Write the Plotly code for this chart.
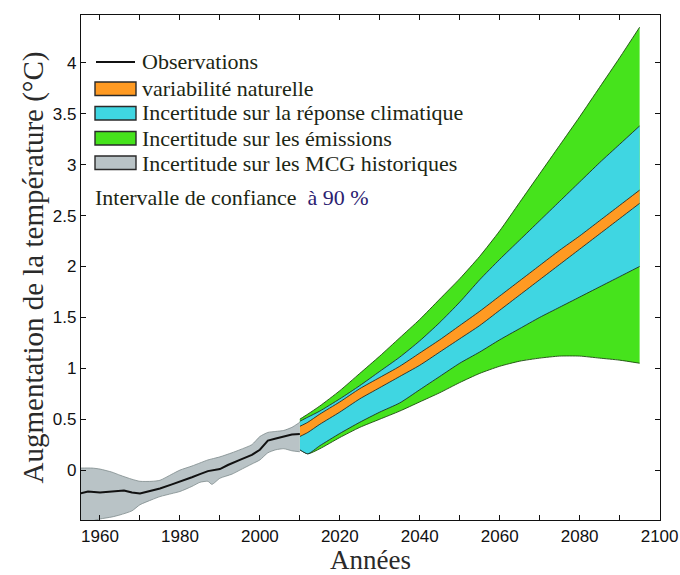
import plotly.graph_objects as go

# ---------------- data ----------------
obs_years = [1955, 1957, 1960, 1963, 1966, 1968, 1970, 1972, 1975, 1978, 1980, 1983,
             1985, 1987, 1990, 1992, 1995, 1998, 2000, 2002, 2004, 2006, 2008, 2010]
obs_vals = [-0.23, -0.21, -0.22, -0.21, -0.20, -0.22, -0.23, -0.21, -0.18, -0.14, -0.115, -0.07,
            -0.04, -0.01, 0.01, 0.05, 0.10, 0.15, 0.20, 0.29, 0.31, 0.33, 0.35, 0.355]

gcm_years = [1955, 1958, 1960, 1963, 1965, 1968, 1970, 1973, 1975, 1978, 1980, 1983,
             1985, 1987, 1988, 1990, 1993, 1995, 1998, 2000, 2002, 2004, 2006, 2008, 2010]
gcm_lo = [-0.52, -0.50, -0.48, -0.46, -0.44, -0.40, -0.34, -0.29, -0.26, -0.23, -0.21, -0.16,
          -0.12, -0.11, -0.14, -0.08, -0.04, 0.00, 0.06, 0.10, 0.17, 0.20, 0.21, 0.19, 0.18]
gcm_hi = [0.02, 0.02, 0.01, -0.02, -0.05, -0.09, -0.11, -0.11, -0.10, -0.04, 0.00, 0.04,
          0.07, 0.10, 0.11, 0.13, 0.17, 0.20, 0.25, 0.33, 0.37, 0.38, 0.39, 0.42, 0.47]

proj_years = [2010, 2012, 2015, 2020, 2025, 2030, 2035, 2040, 2045, 2050,
              2055, 2060, 2065, 2070, 2075, 2080, 2085, 2090, 2095]
emis_lo = [0.20, 0.16, 0.21, 0.32, 0.42, 0.50, 0.58, 0.67, 0.76, 0.86,
           0.95, 1.02, 1.07, 1.10, 1.12, 1.12, 1.10, 1.08, 1.05]
emis_hi = [0.50, 0.55, 0.63, 0.78, 0.95, 1.12, 1.30, 1.48, 1.68, 1.88,
           2.10, 2.35, 2.63, 2.91, 3.19, 3.47, 3.76, 4.05, 4.35]
resp_lo = [0.20, 0.16, 0.24, 0.36, 0.47, 0.57, 0.66, 0.79, 0.92, 1.05,
           1.16, 1.28, 1.39, 1.50, 1.60, 1.70, 1.80, 1.90, 2.00]
resp_hi = [0.48, 0.52, 0.58, 0.70, 0.83, 0.97, 1.11, 1.27, 1.45, 1.65,
           1.87, 2.07, 2.26, 2.45, 2.64, 2.83, 3.02, 3.20, 3.38]
var_lo = [0.33, 0.37, 0.45, 0.57, 0.70, 0.81, 0.92, 1.03, 1.16, 1.29,
          1.42, 1.57, 1.72, 1.87, 2.02, 2.17, 2.32, 2.47, 2.62]
var_hi = [0.43, 0.47, 0.55, 0.67, 0.80, 0.91, 1.02, 1.15, 1.28, 1.42,
          1.56, 1.71, 1.86, 2.01, 2.16, 2.30, 2.45, 2.60, 2.75]

x_tickvals = [1960, 1970, 1980, 1990, 2000, 2010, 2020, 2030, 2040, 2050,
              2060, 2070, 2080, 2090, 2100]
x_ticktext = ["1960", "", "1980", "", "2000", "", "2020", "", "2040", "",
              "2060", "", "2080", "", "2100"]
y_tickvals = [0, 0.5, 1, 1.5, 2, 2.5, 3, 3.5, 4]
y_ticktext = ["0", "0.5", "1", "1.5", "2", "2.5", "3", "3.5", "4"]

legend_labels = ["Observations", "variabilité naturelle",
                 "Incertitude sur la réponse climatique",
                 "Incertitude sur les émissions",
                 "Incertitude sur les MCG historiques"]

# ---------------- styles ----------------
GREEN = "#46e31c"
CYAN = "#3fd6e2"
ORANGE = "#ff9a22"
GRAY = "#b9c3c6"
SERIF = "Liberation Serif, Times New Roman, serif"
SANS = "Liberation Sans, Arial, sans-serif"

fig = go.Figure()

def band(xs, lo, hi, fill, edge, width=0.9, dash="solid"):
    fig.add_trace(go.Scatter(x=xs, y=lo, mode="lines",
                             line=dict(color=edge, width=width, dash=dash, shape="spline",
                                       smoothing=0.6),
                             showlegend=False, hoverinfo="skip"))
    fig.add_trace(go.Scatter(x=xs, y=hi, mode="lines", fill="tonexty",
                             fillcolor=fill,
                             line=dict(color=edge, width=width, dash=dash, shape="spline",
                                       smoothing=0.6),
                             showlegend=False, hoverinfo="skip"))

band(proj_years, emis_lo, emis_hi, GREEN, "#1d4a10")
band(proj_years, resp_lo, resp_hi, CYAN, "#1a1a1a", 0.8)
band(proj_years, var_lo, var_hi, ORANGE, "#1a1a1a", 0.8)
band(gcm_years, gcm_lo, gcm_hi, GRAY, "#7d8a8c", 0.8)

fig.add_trace(go.Scatter(x=obs_years, y=obs_vals, mode="lines",
                         line=dict(color="#111111", width=2),
                         showlegend=False, hoverinfo="skip"))

# ---------------- layout geometry ----------------
W, H = 680, 575
L, R, T, B = 81, 660, 15, 520          # plot area in pixels

def px(xs):
    return (xs - L) / (R - L)
def py(ys):
    return (B - ys) / (B - T)

# ---------------- manual legend ----------------
shapes = []
shapes.append(dict(type="line", xref="paper", yref="paper",
                   x0=px(96), x1=px(135), y0=py(62), y1=py(62),
                   line=dict(color="#111", width=1.8)))
sw_fill = [ORANGE, CYAN, GREEN, GRAY]
sw_top = [82, 106.5, 131.5, 156]
for c, t in zip(sw_fill, sw_top):
    shapes.append(dict(type="rect", xref="paper", yref="paper",
                       x0=px(95), x1=px(136), y0=py(t + 13.5), y1=py(t),
                       fillcolor=c, line=dict(color="#2a2a2a", width=1.4)))

annotations = []
text_y = [62, 88, 113, 138, 163]
for lab, yy in zip(legend_labels, text_y):
    annotations.append(dict(xref="paper", yref="paper", x=px(140), y=py(yy),
                            xanchor="left", yanchor="middle", showarrow=False,
                            text=lab, font=dict(family=SERIF, size=22, color="#1c2614")))
annotations.append(dict(xref="paper", yref="paper", x=px(93), y=py(197),
                        xanchor="left", yanchor="middle", showarrow=False,
                        text='Intervalle de confiance\u00a0 <span style="color:#2b2170">à 90 %</span>',
                        font=dict(family=SERIF, size=22, color="#1c2614")))

axis_common = dict(showline=True, linecolor="#111", linewidth=1.3, mirror="ticks",
                   ticks="inside", ticklen=5, tickwidth=1, tickcolor="#111",
                   showgrid=False, zeroline=False, automargin=False,
                   tickfont=dict(family=SANS, size=17, color="#111"))

fig.update_layout(
    width=W, height=H,
    margin=dict(l=L, r=W - R, t=T, b=H - B),
    paper_bgcolor="white", plot_bgcolor="white",
    showlegend=False,
    shapes=shapes, annotations=annotations,
    xaxis=dict(range=[1955.25, 2100.1], tickvals=x_tickvals, ticktext=x_ticktext,
               title=dict(text="Années", font=dict(family=SERIF, size=27, color="#2a2a2a"),
                          standoff=0),
               **axis_common),
    yaxis=dict(range=[-0.49, 4.47], tickvals=y_tickvals, ticktext=y_ticktext,
               title=dict(text="Augmentation de la température (°C)",
                          font=dict(family=SERIF, size=29, color="#2a2a2a"), standoff=0),
               **axis_common),
)

# remove the default 8px page margin so the figure sits at the window's corner
fig.write_html("out.html",
               config={"displayModeBar": False},
               post_script="document.body.style.margin='0';document.body.style.overflow='hidden';")
